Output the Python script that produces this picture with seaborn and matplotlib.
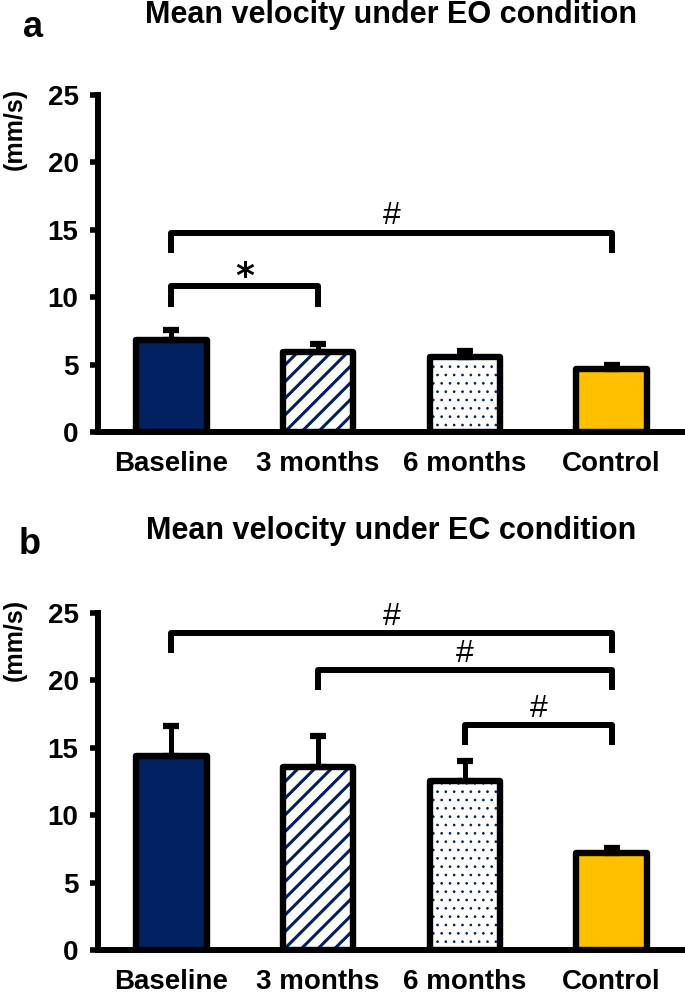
import matplotlib
matplotlib.use("Agg")
import matplotlib.pyplot as plt
import matplotlib.patches as mpatches
import numpy as np
import pandas as pd
import seaborn as sns

# data
conditions = ["Baseline", "3 months", "6 months", "Control"]
eo_mean = [6.85, 5.95, 5.6, 4.65]
eo_err = [0.7, 0.55, 0.4, 0.3]
ec_mean = [14.4, 13.6, 12.5, 7.2]
ec_err = [2.2, 2.3, 1.5, 0.4]

# significance brackets: (from, to), label, height
eo_pairs = [(0, 3), (0, 1)]
eo_marks = ["#", "*"]
eo_heights = [14.8, 10.8]
ec_pairs = [(0, 3), (1, 3), (2, 3)]
ec_marks = ["#", "#", "#"]
ec_heights = [23.5, 20.8, 16.7]

sns.set_style("white")
plt.rcParams["font.family"] = ["Liberation Sans", "DejaVu Sans"]
plt.rcParams["text.color"] = "black"
plt.rcParams["xtick.color"] = "black"
plt.rcParams["ytick.color"] = "black"

navy = "#002060"
gold = "#FFC000"
fills = [navy, "white", "white", gold]
hatches = [None, "//", "..", None]
hatch_lw = [0, 2.2, 0.7, 0]

fig = plt.figure(figsize=(6.85, 9.94), dpi=100)
ax_a = fig.add_axes([98 / 685, 0.5654, 1 - 98 / 685, 0.339])
ax_b = fig.add_axes([98 / 685, 0.0443, 1 - 98 / 685, 0.339])


def draw_panel(ax, means, errs, pairs, marks, heights):
    df = pd.DataFrame({"cond": conditions, "val": means})
    sns.barplot(data=df, x="cond", y="val", hue="cond", palette=fills,
                width=0.48, legend=False, errorbar=None, ax=ax, saturation=1)
    bars = list(ax.patches)
    for p, h, hl in zip(bars, hatches, hatch_lw):
        p.set_linewidth(0)
        xy = (p.get_x(), p.get_y())
        w, ht = p.get_width(), p.get_height()
        if h:
            with plt.rc_context({"hatch.linewidth": hl}):
                hp = mpatches.Rectangle(xy, w, ht, fill=False, edgecolor=navy,
                                        linewidth=0, hatch=h, zorder=2.5)
            if hasattr(hp, "set_hatch_linewidth"):
                hp.set_hatch_linewidth(hl)
            ax.add_patch(hp)
        outline = mpatches.Rectangle(xy, w, ht, fill=False, edgecolor="black",
                                     linewidth=4.6, joinstyle="round", zorder=3)
        ax.add_patch(outline)
    xs = np.arange(len(conditions))
    ax.errorbar(xs, means, yerr=[np.zeros(len(errs)), errs], fmt="none",
                ecolor="black", elinewidth=3.6, capsize=5.5, capthick=4.5, zorder=2)
    for (i, j), m, y in zip(pairs, marks, heights):
        leg = 1.5
        ax.plot([i, i, j, j], [y - leg, y, y, y - leg], color="black", lw=4.3,
                solid_joinstyle="round", solid_capstyle="butt", clip_on=False, zorder=4)
        if m == "*":
            ax.text((i + j) / 2, y - 0.55, m, ha="center", va="bottom", fontsize=26,
                    fontweight="bold", family="DejaVu Sans")
        else:
            ax.text((i + j) / 2, y + 0.6, m, ha="center", va="baseline", fontsize=23)
    ax.set_xlim(-0.5, 3.5)
    ax.set_ylim(0, 25)
    ax.set_yticks([0, 5, 10, 15, 20, 25])
    ax.set_xlabel("")
    ax.set_ylabel("")
    sns.despine(ax=ax)
    for s in ["left", "bottom"]:
        ax.spines[s].set_linewidth(4.3)
        ax.spines[s].set_color("black")
    ax.tick_params(axis="y", direction="out", length=6, width=4, pad=8, left=True)
    ax.tick_params(axis="x", length=0, pad=14)
    for lab in ax.get_xticklabels() + ax.get_yticklabels():
        lab.set_fontweight("bold")
        lab.set_fontsize(20)


draw_panel(ax_a, eo_mean, eo_err, eo_pairs, eo_marks, eo_heights)
draw_panel(ax_b, ec_mean, ec_err, ec_pairs, ec_marks, ec_heights)

fig.text(0.571, 0.985, "Mean velocity under EO condition", ha="center", va="center",
         fontsize=22, fontweight="bold")
fig.text(0.571, 0.466, "Mean velocity under EC condition", ha="center", va="center",
         fontsize=22, fontweight="bold")
fig.text(0.048, 0.972, "a", ha="center", va="center", fontsize=26, fontweight="bold")
fig.text(0.044, 0.452, "b", ha="center", va="center", fontsize=26, fontweight="bold")
fig.text(0.022, 0.870, "(mm/s)", rotation=90, ha="center", va="center",
         fontsize=18, fontweight="bold")
fig.text(0.022, 0.356, "(mm/s)", rotation=90, ha="center", va="center",
         fontsize=18, fontweight="bold")

fig.savefig("out.png", dpi=100)
